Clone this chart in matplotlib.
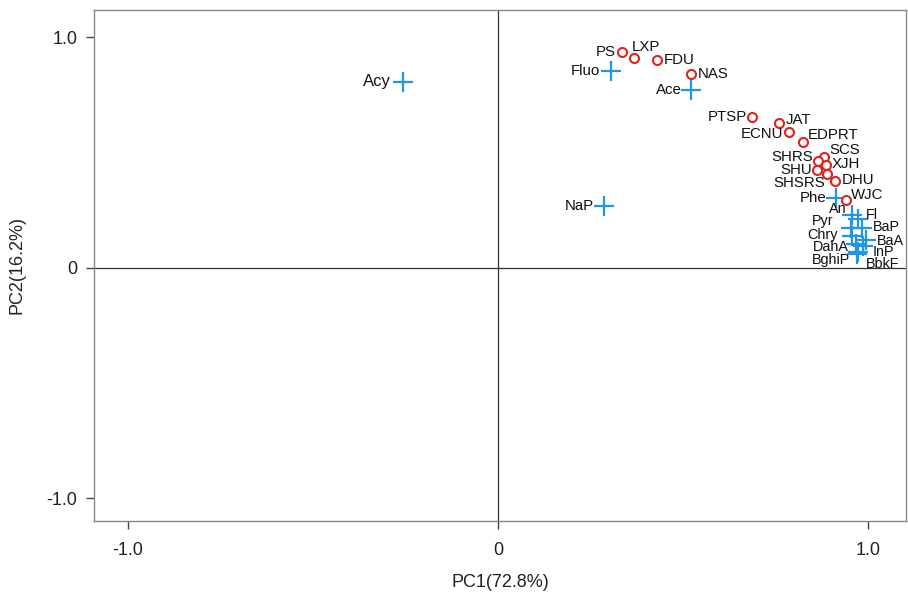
import matplotlib
matplotlib.use("Agg")
import matplotlib.pyplot as plt

plt.rcParams['font.family'] = ['Liberation Sans', 'DejaVu Sans']

# Variables (blue crosses)
var_names = ["Acy", "NaP", "Fluo", "Ace", "Phe", "An", "Fl", "Pyr", "BaP", "Chry",
             "BaA", "DahA", "InP", "BghiP", "BbkF"]
var_pc1 = [-0.257, 0.286, 0.305, 0.522, 0.914, 0.957, 0.973, 0.954, 0.984, 0.957,
           0.995, 0.968, 0.986, 0.970, 0.973]
var_pc2 = [0.807, 0.269, 0.855, 0.772, 0.304, 0.230, 0.213, 0.174, 0.174, 0.139,
           0.121, 0.104, 0.095, 0.060, 0.070]

# Sites (red circles)
site_names = ["PS", "LXP", "FDU", "NAS", "PTSP", "JAT", "ECNU", "EDPRT", "SCS", "SHRS",
              "XJH", "SHU", "SHSRS", "DHU", "WJC"]
site_pc1 = [0.335, 0.368, 0.430, 0.522, 0.686, 0.759, 0.786, 0.824, 0.881, 0.865,
            0.886, 0.862, 0.889, 0.911, 0.941]
site_pc2 = [0.937, 0.911, 0.902, 0.842, 0.655, 0.629, 0.590, 0.547, 0.482, 0.464,
            0.447, 0.425, 0.408, 0.377, 0.295]

x_label = "PC1(72.8%)"
y_label = "PC2(16.2%)"
tick_vals = [-1.0, 0.0, 1.0]
tick_labels = ["-1.0", "0", "1.0"]

# label placement (offset in pixels, horizontal alignment)
var_off = {
    "Acy": (-12, 0, "right"), "NaP": (-10, 0, "right"), "Fluo": (-11, 0, "right"),
    "Ace": (-9, 0, "right"), "Phe": (-10, 0, "right"), "An": (-5, 6, "right"),
    "Fl": (8, 4, "left"), "Pyr": (-17, 7, "right"), "BaP": (11, 1, "left"),
    "Chry": (-14, 1, "right"), "BaA": (11, -1, "left"), "DahA": (-7, -3, "right"),
    "InP": (10, -6, "left"), "BghiP": (-7, -6, "right"), "BbkF": (8, -12, "left"),
}
site_off = {
    "PS": (-6, 0, "right"), "LXP": (-2, 11, "left"), "FDU": (7, 0, "left"),
    "NAS": (7, 0, "left"), "PTSP": (-5, 0, "right"), "JAT": (7, 3, "left"),
    "ECNU": (-6, -2, "right"), "EDPRT": (5, 7, "left"), "SCS": (5, 7, "left"),
    "SHRS": (-5, 4, "right"), "XJH": (6, 1, "left"), "SHU": (-5, 0, "right"),
    "SHSRS": (-2, -9, "right"), "DHU": (7, 1, "left"), "WJC": (5, 5, "left"),
}
cluster = {"An", "Fl", "Pyr", "BaP", "Chry", "BaA", "DahA", "InP", "BghiP", "BbkF"}

fig = plt.figure(figsize=(9.08, 5.92), dpi=100)
ax = fig.add_axes([94 / 908, (592 - 521) / 592, (906 - 94) / 908, (521 - 10) / 592])

ax.set_xlim(-1.092, 1.103)
ax.set_ylim(-1.098, 1.119)

ax.axhline(0, color="#333333", lw=0.9, zorder=1)
ax.axvline(0, color="#333333", lw=0.9, zorder=1)

blue = "#2196e3"
red = "#e0231e"

ax.plot(var_pc1, var_pc2, linestyle="none", marker="+", markersize=14,
        markeredgewidth=1.6, color=blue, zorder=3)
ax.plot(site_pc1, site_pc2, linestyle="none", marker="o", markersize=6.5,
        markerfacecolor="white", markeredgecolor=red, markeredgewidth=1.5, zorder=4)

for n, x, y in zip(var_names, var_pc1, var_pc2):
    dx, dy, ha = var_off[n]
    fs = 12 if n == "Acy" else (10.4 if n in cluster else 10.8)
    ax.annotate(n, (x, y), xytext=(dx, dy), textcoords="offset pixels",
                ha=ha, va="center", fontsize=fs, color="#111111", zorder=5)
for n, x, y in zip(site_names, site_pc1, site_pc2):
    dx, dy, ha = site_off[n]
    ax.annotate(n, (x, y), xytext=(dx, dy), textcoords="offset pixels",
                ha=ha, va="center", fontsize=10.8, color="#111111", zorder=5)

ax.set_xticks(tick_vals)
ax.set_xticklabels(tick_labels)
ax.set_yticks(tick_vals)
ax.set_yticklabels(tick_labels)
ax.tick_params(axis="both", direction="out", length=6, width=1, color="#444444",
               labelsize=13, labelcolor="#222222")
ax.tick_params(axis="x", pad=9)
ax.tick_params(axis="y", pad=6)

for s in ax.spines.values():
    s.set_color("#888888")
    s.set_linewidth(1.0)

ax.set_xlabel(x_label, fontsize=13, color="#222222", labelpad=11)
ax.set_ylabel(y_label, fontsize=13, color="#222222", labelpad=15)

fig.savefig("out.png", dpi=100)
